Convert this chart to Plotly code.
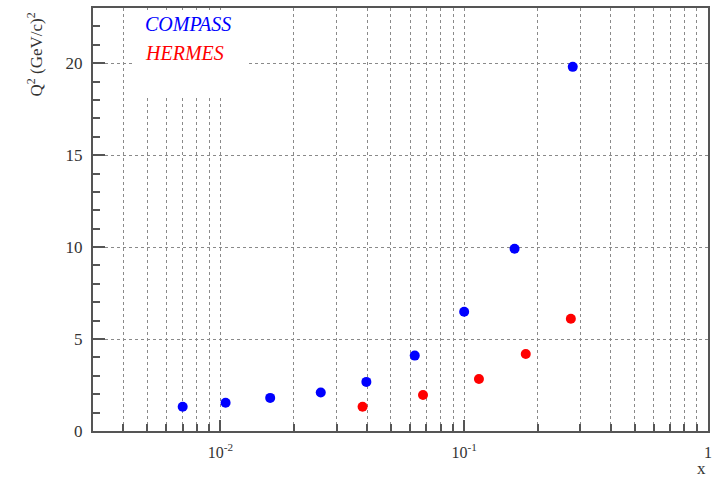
import numpy as np
import plotly.graph_objects as go

# COMPASS data
compass_x = [0.0070, 0.0105, 0.0160, 0.0258, 0.0397, 0.0627, 0.100, 0.161, 0.279]
compass_q2 = [1.32, 1.54, 1.80, 2.09, 2.67, 4.10, 6.48, 9.91, 19.8]
# HERMES data
hermes_x = [0.0383, 0.0678, 0.115, 0.179, 0.274]
hermes_q2 = [1.32, 1.96, 2.83, 4.19, 6.10]

x_major = [0.01, 0.1, 1]
x_major_text = ["10<sup>-2</sup>", "10<sup>-1</sup>", "1"]
y_major = [0, 5, 10, 15, 20]

minor_x = [m * 10.0 ** k for k in (-3, -2, -1) for m in range(2, 10) if m * 10.0 ** k >= 0.003]

FONT = "Liberation Serif, Times New Roman, serif"
TXT = "#333333"
GRID = "#8a8a8a"
AXC = "#555555"

fig = go.Figure()
fig.add_trace(go.Scatter(x=compass_x, y=compass_q2, mode="markers",
                         marker=dict(color="#0000ff", size=10), name="COMPASS", showlegend=False))
fig.add_trace(go.Scatter(x=hermes_x, y=hermes_q2, mode="markers",
                         marker=dict(color="#ff0000", size=10), name="HERMES", showlegend=False))

fig.update_layout(
    width=713, height=480,
    margin=dict(l=93, r=1, t=8, b=49),
    paper_bgcolor="white", plot_bgcolor="white",
    font=dict(family=FONT, size=17, color=TXT),
    xaxis=dict(type="log", range=[np.log10(0.003), 0.0005],
               tickmode="array", tickvals=x_major, ticktext=x_major_text,
               ticks="inside", ticklen=11, tickwidth=2, tickcolor=AXC,
               showline=True, linecolor=AXC, linewidth=2, mirror=True,
               showgrid=True, gridcolor=GRID, griddash="dot", gridwidth=1,
               zeroline=False, ticklabelstandoff=6, ticklabeloverflow="allow",
               tickfont=dict(size=16, family=FONT, color=TXT),
               minor=dict(tickmode="array", tickvals=minor_x, ticks="inside", ticklen=7,
                          tickwidth=2, tickcolor=AXC, showgrid=True, gridcolor=GRID,
                          griddash="dot", gridwidth=1)),
    yaxis=dict(range=[0, 23], tickmode="array", tickvals=y_major,
               ticks="inside", ticklen=12, tickwidth=2, tickcolor=AXC,
               showline=True, linecolor=AXC, linewidth=2, mirror=True,
               showgrid=True, gridcolor=GRID, griddash="dot", gridwidth=1,
               zeroline=False, ticklabelstandoff=5,
               tickfont=dict(size=17, family=FONT, color=TXT),
               minor=dict(dtick=1, ticks="inside", ticklen=7, tickwidth=2,
                          tickcolor=AXC, showgrid=False)),
    shapes=[dict(type="rect", xref="paper", yref="paper",
                 x0=0.0646, x1=0.2504, y0=0.794, y1=0.995,
                 fillcolor="white", line=dict(width=0), layer="above")],
    annotations=[
        dict(text="<i>COMPASS</i>", xref="paper", yref="paper", x=0.0808, y=0.962,
             xanchor="left", yanchor="middle", showarrow=False,
             font=dict(family=FONT, size=20, color="#0000ff")),
        dict(text="<i>HERMES</i>", xref="paper", yref="paper", x=0.0808, y=0.894,
             xanchor="left", yanchor="middle", showarrow=False,
             font=dict(family=FONT, size=20, color="#ff0000")),
        dict(text="Q<sup>2</sup> (GeV/c)<sup>2</sup>", xref="paper", yref="paper",
             x=-0.0937, y=0.995, xanchor="center", yanchor="top", textangle=-90,
             showarrow=False, font=dict(family=FONT, size=17, color=TXT)),
        dict(text="x", xref="paper", yref="paper", x=0.990, y=-0.0875,
             xanchor="center", yanchor="middle", showarrow=False,
             font=dict(family=FONT, size=17, color=TXT)),
    ],
)

fig.write_html("out.html")
